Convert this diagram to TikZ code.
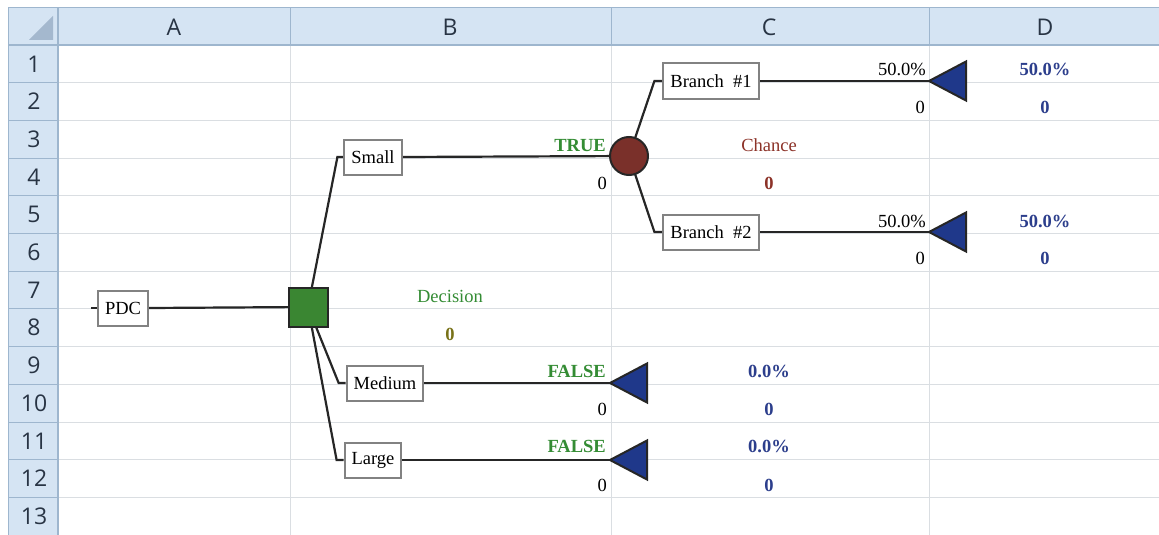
\documentclass[tikz,border=0pt]{standalone}
\usepackage{fontspec}
\setmainfont{Liberation Serif}
\newfontfamily\hdrfont{Open Sans}
\usetikzlibrary{positioning, calc, backgrounds}
\definecolor{hdrblue}{RGB}{213,228,243}
\definecolor{hdrline}{RGB}{158,182,206}
\definecolor{gridgray}{RGB}{218,222,226}
\definecolor{cornertri}{RGB}{164,184,206}
\definecolor{hdrtext}{RGB}{40,52,68}
\definecolor{decgreen}{RGB}{58,134,50}
\definecolor{txtgreen}{RGB}{52,140,52}
\definecolor{chancered}{RGB}{122,48,42}
\definecolor{txtred}{RGB}{140,50,40}
\definecolor{endblue}{RGB}{31,56,138}
\definecolor{txtblue}{RGB}{44,62,140}
\definecolor{linegray}{RGB}{38,38,38}
\definecolor{boxgray}{RGB}{130,130,130}

\begin{document}
\begin{tikzpicture}[x=1pt, y=-1pt,
  lblbox/.style={draw=boxgray, line width=2pt, fill=white, font=\fontsize{18.5}{20}\selectfont, inner xsep=7pt, minimum height=35pt},
  branch/.style={draw=linegray, line width=2.2pt},
  decnode/.style={draw=linegray, line width=2pt, fill=decgreen, minimum size=39pt, inner sep=0pt},
  chnode/.style={circle, draw=linegray, line width=2pt, fill=chancered, minimum size=38pt, inner sep=0pt},
  endtri/.style={draw=linegray, line width=2pt, fill=endblue, line join=miter},
  valtxt/.style={inner sep=0pt, font=\fontsize{18.5}{20}\selectfont},
  gtxt/.style={inner sep=0pt, font=\fontsize{18.5}{20}\selectfont\bfseries, text=txtgreen},
  btxt/.style={inner sep=0pt, font=\fontsize{18.5}{20}\selectfont\bfseries, text=txtblue},
  hdrtxt/.style={font=\hdrfont\fontsize{23}{26}\selectfont, text=hdrtext}
]
  \useasboundingbox (0,0) rectangle (1159,535);

  % sheet grid
  \begin{scope}[on background layer]
    \fill[white] (0,0) rectangle (1159,535);
    \fill[hdrblue] (8,8) rectangle (1159,45);
    \fill[hdrblue] (8,45) rectangle (58,535);
    \foreach \r in {1,...,13}
      \draw[gridgray, line width=1pt] (58,{45+37.7*\r}) -- (1159,{45+37.7*\r});
    \foreach \c in {290,611,929}
      \draw[gridgray, line width=1pt] (\c,45) -- (\c,535);
    \foreach \r in {1,...,13}
      \draw[hdrline, line width=1pt] (8,{45+37.7*\r}) -- (58,{45+37.7*\r});
    \foreach \c in {290,611,929}
      \draw[hdrline, line width=1pt] (\c,8) -- (\c,45);
    \draw[hdrline, line width=1pt] (8,535) -- (8,8) -- (1159,8);
    \draw[hdrline, line width=1.5pt] (8,45) -- (1159,45);
    \draw[hdrline, line width=1.5pt] (58,8) -- (58,535);
    \fill[cornertri] (29,40) -- (53,40) -- (53,16) -- cycle;
  \end{scope}

  % headers
  \foreach \lbl/\cx in {A/174, B/450, C/769, D/1045}
    \node[hdrtxt] (col\lbl) at (\cx,27) {\lbl};
  \foreach \r in {1,...,13}
    \node[hdrtxt] (row\r) at (34,{45+37.7*\r-18.85}) {\r};

  % tree nodes
  \coordinate (root) at (91,308);
  \node[lblbox] (pdc) at (123,308) {PDC};
  \node[decnode] (dec) at (308,307) {};
  \node[lblbox] (small) at (373,157) {Small};
  \node[lblbox] (medium) at (385,383) {Medium};
  \node[lblbox] (large) at (373,460) {Large};
  \node[chnode] (chance) at (629,156) {};
  \node[lblbox] (br1) at (711,81) {Branch\ \ \#1};
  \node[lblbox] (br2) at (711,232) {Branch\ \ \#2};
  \coordinate (t1) at (929,81);
  \coordinate (t2) at (929,232);
  \coordinate (t3) at (610,383);
  \coordinate (t4) at (610,460);

  % branches
  \begin{scope}[on background layer]
    \draw[branch] (root) -- (pdc.west);
    \draw[branch] (pdc.east) -- (dec.center);
    \draw[branch] (dec.center) -- ([xshift=-6pt]small.west) -- (small.west);
    \draw[branch] (dec.center) -- ([xshift=-7pt]medium.west) -- (medium.west);
    \draw[branch] (dec.center) -- ([xshift=-7pt]large.west) -- (large.west);
    \draw[branch] (small.east) -- (chance.center);
    \draw[branch] (chance.center) -- ([xshift=-8pt]br1.west) -- (br1.west);
    \draw[branch] (chance.center) -- ([xshift=-8pt]br2.west) -- (br2.west);
    \draw[branch] (br1.east) -- (t1);
    \draw[branch] (br2.east) -- (t2);
    \draw[branch] (medium.east) -- (t3);
    \draw[branch] (large.east) -- (t4);
  \end{scope}

  % end nodes
  \foreach \t in {t1,t2,t3,t4}
    \draw[endtri] (\t) -- ++(37,-19.5) -- ++(0,39) -- cycle;

  % values
  \node[gtxt, anchor=base east] (smtrue) at (606,151) {TRUE};
  \node[valtxt, anchor=base east] (smval) at (607,189) {0};
  \node[gtxt, anchor=base east] (mdfalse) at (606,377) {FALSE};
  \node[valtxt, anchor=base east] (mdval) at (607,415) {0};
  \node[gtxt, anchor=base east] (lgfalse) at (606,452) {FALSE};
  \node[valtxt, anchor=base east] (lgval) at (607,491) {0};

  \node[valtxt, text=txtgreen, anchor=base] (declbl) at (450,302) {Decision};
  \node[gtxt, text=olive!80!black, anchor=base] (decval) at (450,340) {0};
  \node[valtxt, text=txtred, anchor=base] (chlbl) at (769,151) {Chance};
  \node[valtxt, font=\fontsize{18.5}{20}\selectfont\bfseries, text=txtred, anchor=base] (chval) at (769,189) {0};

  \node[valtxt, anchor=base east] (b1prob) at (926,76) {50.0\%};
  \node[valtxt, anchor=base east] (b1val) at (925,113) {0};
  \node[valtxt, anchor=base east] (b2prob) at (926,227) {50.0\%};
  \node[valtxt, anchor=base east] (b2val) at (925,264) {0};

  \node[btxt, anchor=base] (b1p) at (1045,76) {50.0\%};
  \node[btxt, anchor=base] (b1v) at (1045,113) {0};
  \node[btxt, anchor=base] (b2p) at (1045,227) {50.0\%};
  \node[btxt, anchor=base] (b2v) at (1045,264) {0};
  \node[btxt, anchor=base] (mdp) at (769,377) {0.0\%};
  \node[btxt, anchor=base] (mdv) at (769,415) {0};
  \node[btxt, anchor=base] (lgp) at (769,452) {0.0\%};
  \node[btxt, anchor=base] (lgv) at (769,491) {0};
\end{tikzpicture}
\end{document}
